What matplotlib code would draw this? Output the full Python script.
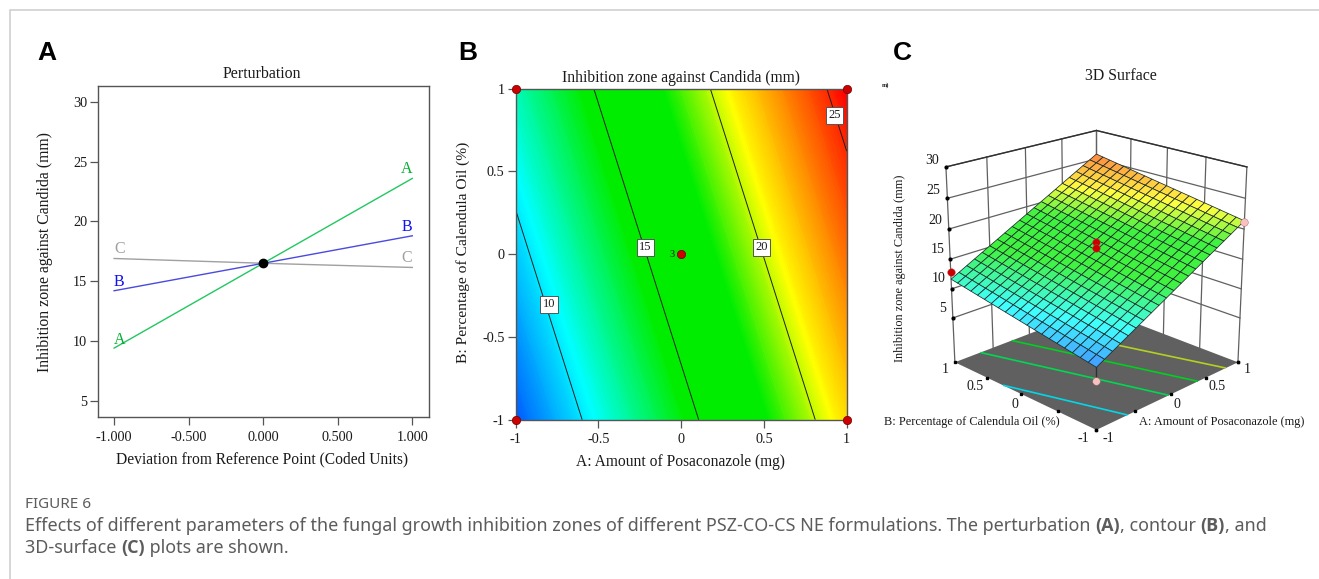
import numpy as np
import matplotlib
matplotlib.use('Agg')
from matplotlib import pyplot as plt
from matplotlib.colors import LinearSegmentedColormap, Normalize
from matplotlib.lines import Line2D

W, H = 1319, 579

# Panel A - perturbation traces
dev = [-1.0, 0.0, 1.0]
trace_a = [9.4, 16.5, 23.6]
trace_b = [14.2, 16.5, 18.8]
trace_c = [16.9, 16.5, 16.15]
dev_ticks = [-1.0, -0.5, 0.0, 0.5, 1.0]
dev_labels = ['-1.000', '-0.500', '0.000', '0.500', '1.000']
resp_ticks = [5, 10, 15, 20, 25, 30]

# Panel B/C - response read at the coded levels (rows: B, columns: A)
coded = [-1.0, 0.0, 1.0]
resp_table = np.array([[7.15, 14.25, 21.35],
                       [9.4, 16.5, 23.6],
                       [11.65, 18.75, 25.85]])
contour_levels = [10, 15, 20, 25]
floor_levels = [10, 14, 17, 20, 25]
floor_colors = ['#00d8e8', '#00d850', '#00d020', '#b4d020', '#f09010']
coded_ticks = [-1, -0.5, 0, 0.5, 1]
coded_labels = ['-1', '-0.5', '0', '0.5', '1']
design_a = [-1, -1, 1, 1, 0]
design_b = [-1, 1, -1, 1, 0]

# Panel C design points as (A, B, response, colour)
surf_a = [-1, -1, 1, 0, 0]
surf_b = [1, -1, -1, 0, 0]
surf_z = [12.8, 5.0, 21.2, 17.9, 16.8]
surf_col = ['#cc0000', '#f8c0c0', '#f8c0c0', '#cc0000', '#cc0000']
wall_z = [5, 10, 15, 20, 25, 30]
floor_z = -2.8

cmap = LinearSegmentedColormap.from_list('de', [
    (0.0, (0.0, 0.35, 1.0)),
    (0.18, (0.0, 1.0, 1.0)),
    (0.39, (0.0, 0.93, 0.0)),
    (0.58, (0.0, 0.93, 0.0)),
    (0.725, (1.0, 1.0, 0.0)),
    (1.0, (1.0, 0.0, 0.0))])
norm = Normalize(7.15, 25.85)
norm3 = Normalize(6, 27.5)

plt.rcParams['font.family'] = ['Liberation Serif', 'DejaVu Serif']
txt = '#1a1a1a'


def px(x, y):
    return x / W, 1 - y / H


def axbox(l, t, r, b):
    return [l / W, 1 - b / H, (r - l) / W, (b - t) / H]


def ptext(x, y, s, **kw):
    kw.setdefault('ha', 'center')
    kw.setdefault('va', 'center')
    kw.setdefault('color', txt)
    return fig.text(*px(x, y), s, **kw)


fig = plt.figure(figsize=(W / 100, H / 100), dpi=100)

# card border
fig.add_artist(Line2D([10 / W, 10 / W, 1], [0, 1 - 10 / H, 1 - 10 / H], color='#d0d0d0', lw=1.2))

# Panel A
ax = fig.add_axes(axbox(97.7, 85.7, 428.7, 417.3))
ax.plot(dev, trace_c, color='#a0a0a0', lw=1)
ax.plot(dev, trace_b, color='#4a4ae0', lw=1)
ax.plot(dev, trace_a, color='#20c860', lw=1)
ax.plot([0], [trace_a[1]], 'o', color='k', ms=6)
for x, y, s, c in [(0.965, 24.4, 'A', '#00b030'), (-0.965, 10.08, 'A', '#00b030'),
                   (0.965, 19.57, 'B', '#1010f0'), (-0.965, 14.96, 'B', '#1010f0'),
                   (0.965, 16.94, 'C', '#a0a0a0'), (-0.965, 17.67, 'C', '#a0a0a0')]:
    ax.text(x, y, s, color=c, fontsize=11.5, ha='center', va='center')
ax.set_xlim(-1.11, 1.11)
ax.set_ylim(3.61, 31.36)
ax.set_xticks(dev_ticks)
ax.set_xticklabels(dev_labels)
ax.set_yticks(resp_ticks)
ax.tick_params(labelsize=10.3, length=5.5, width=0.9, color='#555555', labelcolor=txt)
ax.tick_params(axis='x', pad=4.5)
ax.tick_params(axis='y', pad=2)
for s in ax.spines.values():
    s.set_color('#555555')
    s.set_linewidth(1.0)
ptext(262, 74, 'Perturbation', fontsize=11.4)
ptext(262.5, 459.5, 'Deviation from Reference Point (Coded Units)', fontsize=11.2)
ptext(45, 252, 'Inhibition zone against Candida (mm)', fontsize=11.3, rotation=90)

# Panel B
ax = fig.add_axes(axbox(515.7, 88.7, 846.7, 419.7))
ax.contourf(coded, coded, resp_table, levels=np.linspace(7.15, 25.85, 240), cmap=cmap, norm=norm,
            antialiased=False, extend='both')
ax.contour(coded, coded, resp_table, levels=contour_levels, colors='#202020', linewidths=0.7)
for x, y, s in [(-0.80, -0.303, '10'), (-0.215, 0.041, '15'), (0.484, 0.041, '20'), (0.925, 0.841, '25')]:
    ax.text(x, y, s, fontsize=9, ha='center', va='center', color=txt,
            bbox=dict(boxstyle='square,pad=0.2', fc='white', ec='#555555', lw=0.7))
ax.plot(design_a, design_b, 'o', color='#cc0000', mec='#700000', mew=0.5, ms=6, clip_on=False, zorder=5)
ax.text(-0.057, 0, '3', fontsize=7.5, ha='center', va='center', color=txt)
ax.set_xlim(-1, 1)
ax.set_ylim(-1, 1)
ax.set_xticks(coded_ticks)
ax.set_xticklabels(coded_labels)
ax.set_yticks(coded_ticks)
ax.set_yticklabels(coded_labels)
ax.tick_params(labelsize=10.3, length=6, width=0.9, color='#555555', labelcolor=txt)
ax.tick_params(axis='x', pad=3.5)
ax.tick_params(axis='y', pad=2)
for s in ax.spines.values():
    s.set_color('#555555')
    s.set_linewidth(1.0)
ptext(681, 77.5, 'Inhibition zone against Candida (mm)', fontsize=11.25)
ptext(680, 462, 'A: Amount of Posaconazole (mg)', fontsize=11.2)
ptext(463, 252, 'B: Percentage of Calendula Oil (%)', fontsize=11.15, rotation=90)

# Panel C - facet mesh laid over the response table, only for drawing the cells
mesh = np.linspace(-1, 1, 21)
by_a = np.array([np.interp(mesh, coded, row) for row in resp_table])
mesh_z = np.array([np.interp(mesh, coded, col) for col in by_a.T]).T
mesh_a, mesh_b = np.meshgrid(mesh, mesh)
cols = cmap(norm3(mesh_z))
cols[..., :3] = cols[..., :3] * 0.75 + 0.25

ax3 = fig.add_axes(axbox(891, 73, 1291, 473), projection='3d', computed_zorder=False)
ax3.set_proj_type('persp', focal_length=0.55)
ax3.view_init(elev=20.5, azim=-135)
ax3.set_box_aspect((1, 1, 1.01), zoom=0.87)
ax3.set_xlim(-1, 1)
ax3.set_ylim(-1, 1)
ax3.set_zlim(floor_z, 30)
ax3.set_axis_off()
ax3.patch.set_alpha(0)

wall = dict(color='#606060', lw=0.9, zorder=1)
for t in coded_ticks:
    ax3.plot([1, 1], [t, t], [floor_z, 30], **wall)
    ax3.plot([t, t], [1, 1], [floor_z, 30], **wall)
for z in wall_z:
    ax3.plot([1, 1], [-1, 1], [z, z], **wall)
    ax3.plot([-1, 1], [1, 1], [z, z], **wall)
ax3.plot([-1, 1, 1], [1, 1, -1], [30, 30, 30], color='#303030', lw=1, zorder=1)
ax3.plot([-1] * len(wall_z), [1] * len(wall_z), wall_z, 'o', color='k', ms=2, zorder=2)

ax3.plot_surface(np.array([[-1, 1], [-1, 1]]), np.array([[-1, -1], [1, 1]]),
                 np.full((2, 2), floor_z), color='#606060', shade=False, zorder=2, linewidth=0)
floor_cs = ax3.contour(coded, coded, resp_table, levels=floor_levels, colors=floor_colors,
                       zdir='z', offset=floor_z, linewidths=1.2, zorder=3)
floor_cs.set_zorder(3)
ax3.plot(coded_ticks, [-1] * 5, [floor_z] * 5, 's', color='k', ms=1.5, zorder=3)
ax3.plot([-1] * 5, coded_ticks, [floor_z] * 5, 's', color='k', ms=1.5, zorder=3)
ax3.plot([1], [-1], [floor_z], 's', color='k', ms=2, zorder=3)
ax3.plot([-1, -1], [-1, -1], [surf_z[1], resp_table[0, 0]], color='#303030', lw=1, zorder=4)

ax3.plot_surface(mesh_a, mesh_b, mesh_z, rstride=1, cstride=1, facecolors=cols, edgecolor='#1c2a2a',
                 linewidth=0.55, shade=False, zorder=5)
for a, b, z, c in zip(surf_a, surf_b, surf_z, surf_col):
    ax3.plot([a], [b], [z], 'o', color=c, mec='#a06060', mew=0.3, ms=5.5, zorder=6)

for x, y, s in [(932.3, 160.7, '30'), (933.3, 190.7, '25'), (935, 220, '20'), (937.3, 249.3, '15'),
                (938.3, 279, '10'), (942.7, 308.7, '5')]:
    ptext(x, y, s, fontsize=10)
for x, y, s in [(945, 369.5, '1'), (975, 387, '0.5'), (1015, 404, '0'), (1083, 438, '-1'),
                (1108, 438, '-1'), (1177, 404, '0'), (1217, 387, '0.5'), (1247, 369.5, '1')]:
    ptext(x, y, s, fontsize=10)
ptext(972, 422.5, 'B: Percentage of Calendula Oil (%)', fontsize=8.8)
ptext(1222, 422.5, 'A: Amount of Posaconazole (mg)', fontsize=8.8)
ptext(900.5, 268, 'Inhibition zone against Candida (mm)', fontsize=8.8, rotation=90)
ptext(1121, 76, '3D Surface', fontsize=11.4)
ptext(885, 85, 'm)', fontsize=4.5, weight='bold')

# Panel letters and caption
for x, s in [(47, 'A'), (468, 'B'), (902, 'C')]:
    ptext(x, 53, s, fontsize=19, weight='bold', family=['Liberation Sans'], color='k')
cap = '#5c5c5c'
ptext(25, 505, 'FIGURE 6', fontsize=11, ha='left', family=['Noto Sans'], color=cap)
caption = [(526, [('Effects of different parameters of the fungal growth inhibition zones of different PSZ-CO-CS NE formulations. The perturbation ', 'normal'),
                  ('(A)', 'bold'), (', contour ', 'normal'), ('(B)', 'bold'), (', and', 'normal')]),
           (548, [('3D-surface ', 'normal'), ('(C)', 'bold'), (' plots are shown.', 'normal')])]
rend = fig.canvas.get_renderer()
for y, parts in caption:
    x = 25
    for s, w in parts:
        # the installed Noto Sans has no bold face here
        fam = ['Open Sans'] if w == 'bold' else ['Noto Sans']
        t = ptext(x, y, s, fontsize=12.95, ha='left', family=fam, color=cap, weight=w)
        x += t.get_window_extent(rend).width

plt.savefig('out.png', dpi=100)
plt.close()
